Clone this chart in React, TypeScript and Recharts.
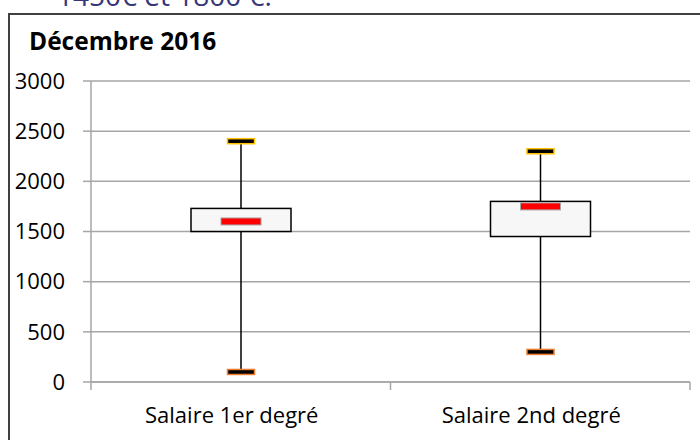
import React from 'react';
import { ComposedChart, Bar, XAxis, YAxis, CartesianGrid } from 'recharts';

const categories = ['Salaire 1er degré', 'Salaire 2nd degré'];
const minValues = [100, 300];
const q1Values = [1500, 1450];
const medianValues = [1600, 1750];
const q3Values = [1730, 1800];
const maxValues = [2400, 2300];
const yTicks = [0, 500, 1000, 1500, 2000, 2500, 3000];
const titleText = 'Décembre 2016';
const headerText = '1450€ et 1800 €.';

const data = categories.map((name, i) => ({
  name,
  range: [minValues[i], maxValues[i]],
  min: minValues[i],
  q1: q1Values[i],
  median: medianValues[i],
  q3: q3Values[i],
  max: maxValues[i],
}));

const FONT = '"Open Sans", sans-serif';
const GRID = '#A6A6A6';

const BoxShape = (props: any) => {
  const { x, y, width, height, payload } = props;
  const { min, q1, median, q3, max } = payload;
  const k = height / (max - min);
  const yOf = (v: number) => y + (max - v) * k;
  const cx = x + width / 2;
  const capW = 27;
  const capH = 5;
  const medW = 40;
  const medH = 7;
  return (
    <g>
      <line x1={cx} x2={cx} y1={yOf(max)} y2={yOf(min)} stroke="#000" strokeWidth={1.5} />
      <rect x={x} y={yOf(q3)} width={width} height={yOf(q1) - yOf(q3)} fill="#F7F7F7" stroke="#000" strokeWidth={1.5} />
      <rect x={cx - medW / 2} y={yOf(median) - medH / 2} width={medW} height={medH} fill="#FF0000" stroke="#A6A6A6" strokeWidth={1} />
      <rect x={cx - capW / 2} y={yOf(max) - capH / 2} width={capW} height={capH} fill="#000" stroke="#FFC000" strokeWidth={1.5} />
      <rect x={cx - capW / 2} y={yOf(min) - capH / 2} width={capW} height={capH} fill="#000" stroke="#ED7D31" strokeWidth={1.5} />
    </g>
  );
};

const XTick = (props: any) => {
  const { x, y, payload, index } = props;
  const off = payload.offset || 0;
  return (
    <g>
      <line x1={x - off} x2={x - off} y1={y} y2={y + 8} stroke={GRID} strokeWidth={1.5} />
      {index === categories.length - 1 && (
        <line x1={x + off} x2={x + off} y1={y} y2={y + 8} stroke={GRID} strokeWidth={1.5} />
      )}
      <text x={x - 9} y={y + 41} textAnchor="middle" fontFamily={FONT} fontSize={22} fill="#000">
        {payload.value}
      </text>
    </g>
  );
};

export default function App() {
  return (
    <div style={{ position: 'absolute', left: 0, top: 0, width: 700, height: 440, overflow: 'hidden', background: '#fff' }}>
      <div style={{ position: 'absolute', left: 8, top: 13, width: 720, height: 460, border: '2px solid #404040' }} />
      <div style={{ position: 'absolute', left: 0, top: 0 }}>
        <ComposedChart width={700} height={440} data={data} margin={{ top: 81, right: 10, bottom: 0, left: 0 }}>
          <CartesianGrid horizontal vertical={false} stroke={GRID} strokeWidth={1.5} />
          <XAxis
            dataKey="name"
            type="category"
            height={58}
            tickSize={0}
            tickMargin={0}
            tickLine={false}
            axisLine={{ stroke: GRID, strokeWidth: 1.5 }}
            tick={<XTick />}
            interval={0}
          />
          <YAxis
            type="number"
            domain={[0, 3000]}
            ticks={yTicks}
            width={91}
            tickSize={8}
            tickMargin={18}
            tickLine={{ stroke: GRID, strokeWidth: 1.5 }}
            axisLine={{ stroke: GRID, strokeWidth: 1.5 }}
            tick={{ fontFamily: FONT, fontSize: 22, fill: '#000' }}
            interval={0}
          />
          <Bar dataKey="range" barSize={100} shape={<BoxShape />} isAnimationActive={false} />
        </ComposedChart>
      </div>
      <svg width={700} height={440} style={{ position: 'absolute', left: 0, top: 0, pointerEvents: 'none' }}>
        <text x={57} y={6} fontFamily={FONT} fontSize={28} fill="#35357A">{headerText}</text>
        <text x={29} y={50} fontFamily={FONT} fontSize={24.5} fontWeight="bold" fill="#000">{titleText}</text>
      </svg>
    </div>
  );
}
